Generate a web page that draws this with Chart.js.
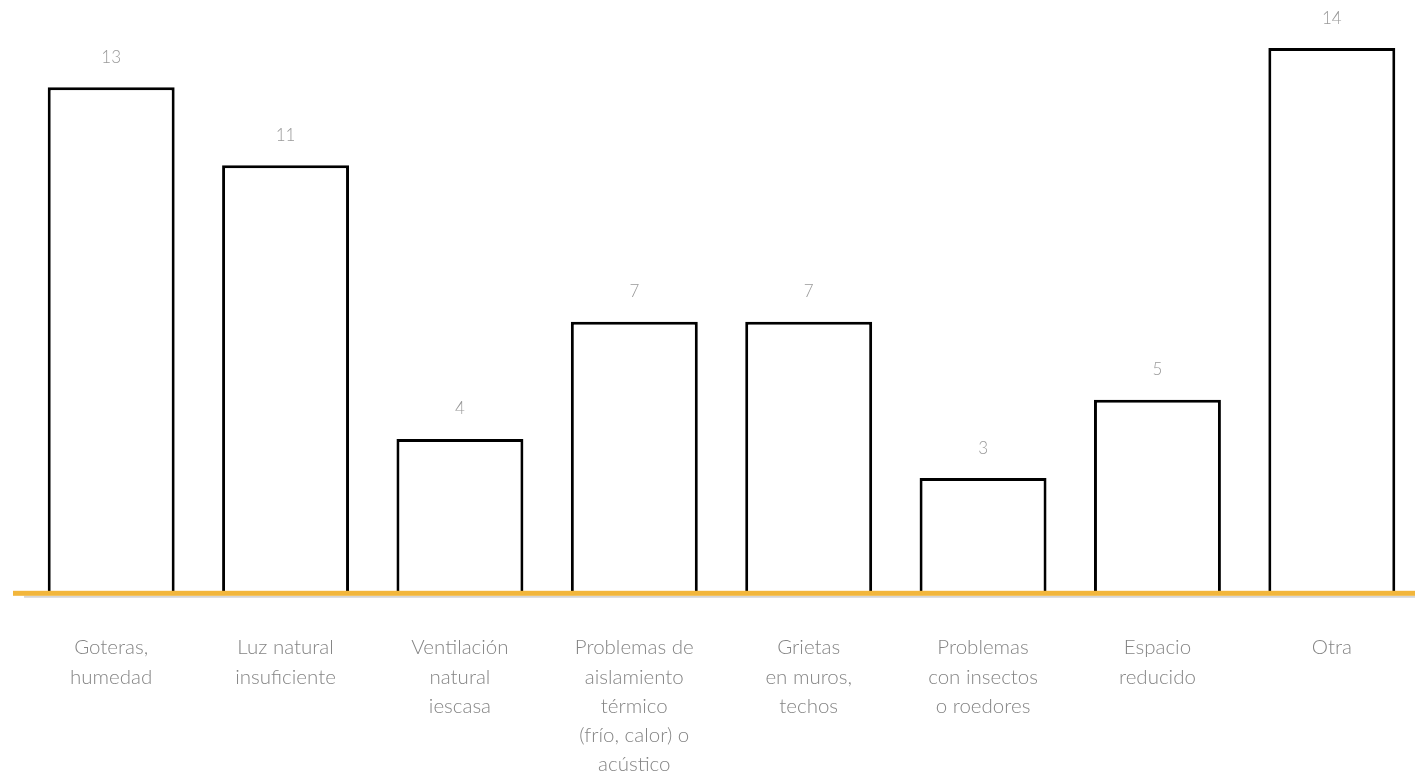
<!DOCTYPE html>
<html lang="es">
<head>
<meta charset="utf-8">
<title>Problemas de la vivienda</title>
<script src="https://cdn.jsdelivr.net/npm/chart.js@4.4.1/dist/chart.umd.min.js"></script>
<style>
  html, body { margin: 0; padding: 0; background: #fff; overflow: hidden; }
  #wrap { width: 1419px; height: 774px; position: relative; }
</style>
</head>
<body>
<div id="wrap"><canvas id="problemasChart"></canvas></div>
<script>
// Categorías y número de respuestas
const categorias = [
  ['Goteras,', 'humedad'],
  ['Luz natural', 'insuficiente'],
  ['Ventilación', 'natural', 'iescasa'],
  ['Problemas de', 'aislamiento', 'térmico', '(frío, calor) o', 'acústico'],
  ['Grietas', 'en muros,', 'techos'],
  ['Problemas', 'con insectos', 'o roedores'],
  ['Espacio', 'reducido'],
  ['Otra']
];
const respuestas = [13, 11, 4, 7, 7, 3, 5, 14];

const FONT = 'Lato, "Open Sans", sans-serif';

// línea base naranja con sombra gris
const baseLine = {
  id: 'baseLine',
  afterDatasetsDraw(chart) {
    const ctx = chart.ctx;
    const y0 = chart.scales.y.getPixelForValue(0);
    ctx.save();
    ctx.fillStyle = '#d6d6d6';
    ctx.fillRect(24, y0 + 0.5, chart.width - 24, 2);
    ctx.fillStyle = '#f2b63c';
    ctx.fillRect(13, y0 - 4.5, chart.width - 13, 5);
    ctx.restore();
  }
};

// valores encima de cada barra
const valueLabels = {
  id: 'valueLabels',
  afterDatasetsDraw(chart) {
    const ctx = chart.ctx;
    const meta = chart.getDatasetMeta(0);
    ctx.save();
    ctx.font = '300 17px ' + FONT;
    ctx.fillStyle = '#999999';
    ctx.textAlign = 'center';
    ctx.textBaseline = 'middle';
    meta.data.forEach((bar, i) => {
      ctx.fillText(String(respuestas[i]), bar.x, bar.y - 30);
    });
    ctx.restore();
  }
};

const ctx = document.getElementById('problemasChart').getContext('2d');
new Chart(ctx, {
  type: 'bar',
  data: {
    labels: categorias,
    datasets: [{
      data: respuestas,
      backgroundColor: '#ffffff',
      borderColor: '#000000',
      borderWidth: 3,
      borderSkipped: 'bottom',
      barPercentage: 0.728,
      categoryPercentage: 1
    }]
  },
  options: {
    responsive: true,
    maintainAspectRatio: false,
    animation: false,
    layout: { padding: { top: 9, left: 24, right: 0, bottom: 0 } },
    plugins: {
      legend: { display: false },
      tooltip: { enabled: false }
    },
    scales: {
      y: {
        display: false,
        min: 0,
        max: 15
      },
      x: {
        grid: { display: false, drawTicks: false },
        border: { display: false },
        ticks: {
          padding: 38,
          color: '#858585',
          maxRotation: 0,
          autoSkip: false,
          font: { family: FONT, size: 20.5, weight: '300', lineHeight: 1.42 }
        },
        afterFit(scale) { scale.height = 178.7; }
      }
    }
  },
  plugins: [baseLine, valueLabels]
});
</script>
</body>
</html>
